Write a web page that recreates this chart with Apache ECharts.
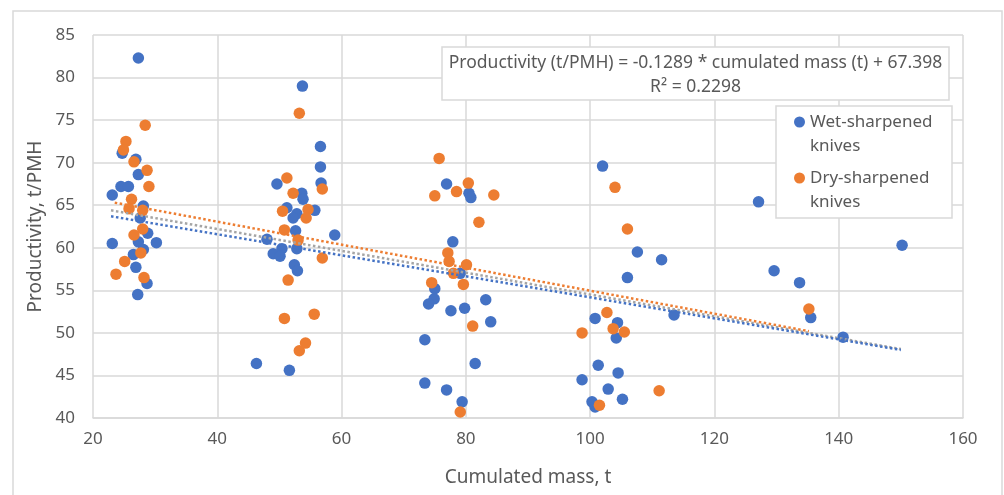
<!DOCTYPE html>
<html lang="en">
<head>
    <meta charset="UTF-8">
    <title>Productivity vs cumulated mass</title>
    <script src="https://cdn.jsdelivr.net/npm/echarts@6/dist/echarts.min.js"></script>
    <style>
        html, body { margin: 0; padding: 0; background: #fff; }
    </style>
</head>
<body>
    <div id="main" style="width: 1004px;height:495px;"></div>
    <script type="text/javascript">
        // points: [cumulated mass t, productivity t/PMH]
        var wetPoints = [
            [27.3, 82.3], [24.7, 71.1], [26.9, 70.4], [27.3, 68.6], [24.5, 67.2], [25.7, 67.2],
            [23.1, 66.2], [28.1, 64.9], [27.6, 63.5], [23.1, 60.5], [30.2, 60.6], [27.3, 60.7],
            [28.8, 61.7], [28.1, 59.8], [26.5, 59.2], [26.9, 57.7], [28.7, 55.8], [27.2, 54.5],
            [53.7, 79.0], [56.6, 71.9], [56.6, 69.5], [56.7, 67.6], [49.6, 67.5], [53.6, 66.4],
            [53.8, 65.7], [51.2, 64.7], [55.7, 64.4], [52.8, 64.0], [52.2, 63.5], [52.6, 62.0],
            [58.9, 61.5], [48.0, 61.0], [52.8, 59.9], [50.4, 59.9], [49.0, 59.3], [50.1, 59.0],
            [52.4, 58.0], [52.9, 57.3], [46.3, 46.4], [51.6, 45.6],
            [76.9, 67.5], [80.5, 66.4], [80.8, 65.9], [77.9, 60.7], [79.1, 57.0], [75.0, 55.2],
            [74.9, 54.0], [74.0, 53.4], [83.2, 53.9], [77.6, 52.6], [79.8, 52.9], [84.0, 51.3],
            [73.4, 49.2], [81.5, 46.4], [73.4, 44.1], [76.9, 43.3], [79.4, 41.9],
            [102.0, 69.6], [107.6, 59.5], [111.5, 58.6], [106.0, 56.5], [113.5, 52.1], [100.8, 51.7],
            [104.4, 51.2], [104.2, 49.4], [101.3, 46.2], [104.5, 45.3], [98.7, 44.5], [102.9, 43.4],
            [105.2, 42.2], [100.3, 41.9], [100.8, 41.3],
            [127.1, 65.4], [150.2, 60.3], [129.6, 57.3], [133.7, 55.9], [135.5, 51.8], [140.7, 49.5]
        ];
        var dryPoints = [
            [28.4, 74.4], [25.3, 72.5], [24.9, 71.5], [26.6, 70.1], [28.7, 69.1], [29.0, 67.2],
            [26.2, 65.7], [25.8, 64.6], [28.0, 64.4], [28.0, 62.2], [26.6, 61.5], [27.7, 59.4],
            [25.1, 58.4], [23.7, 56.9], [28.2, 56.5],
            [53.2, 75.8], [51.2, 68.2], [52.2, 66.4], [56.9, 66.9], [50.5, 64.3], [54.6, 64.5],
            [54.3, 63.5], [50.8, 62.1], [53.0, 60.9], [56.9, 58.8], [51.4, 56.2], [50.8, 51.7],
            [55.6, 52.2], [54.2, 48.8], [53.2, 47.9],
            [75.7, 70.5], [80.4, 67.6], [78.5, 66.6], [75.0, 66.1], [84.5, 66.2], [82.1, 63.0],
            [77.1, 59.4], [77.3, 58.4], [80.1, 58.0], [78.0, 57.0], [79.6, 55.7], [74.5, 55.9],
            [81.1, 50.8], [79.1, 40.7],
            [104.0, 67.1], [106.0, 62.2], [102.7, 52.4], [103.7, 50.5], [105.5, 50.1], [98.7, 50.0],
            [111.1, 43.2], [101.5, 41.5],
            [135.2, 52.8]
        ];
        // linear trend lines, ends
        var wetTrend = [[22.9, 63.7], [150, 48.0]];
        var dryTrend = [[23.5, 65.3], [135.2, 50.2]];
        var allTrend = [[22.9, 64.4], [150, 48.1]];

        var seriesNames = ['Wet-sharpened knives', 'Dry-sharpened knives'];
        var equationLines = ['Productivity (t/PMH) = -0.1289 * cumulated mass (t) + 67.398', 'R\u00b2 = 0.2298'];

        var blue = '#4472C4', orange = '#ED7D31', gray = '#A5A5A5';
        var textColor = '#595959', lineColor = '#D9D9D9';
        var font = 'Noto Sans';

        var myChart = echarts.init(document.getElementById('main'));

        function trendSeries(name, data, color) {
            return {
                name: name,
                type: 'line',
                data: data,
                symbol: 'none',
                silent: true,
                lineStyle: {color: color, width: 2.5, type: 'dotted'}
            };
        }

        var option = {
            backgroundColor: '#fff',
            animation: false,
            textStyle: {fontFamily: font},
            grid: {left: 93, right: 41, top: 35, bottom: 77, containLabel: false},
            xAxis: {
                type: 'value',
                min: 20, max: 160, interval: 20,
                name: 'Cumulated mass, t',
                nameLocation: 'middle',
                nameGap: 50,
                nameTextStyle: {color: textColor, fontSize: 19, fontFamily: font},
                axisLine: {show: true, lineStyle: {color: lineColor, width: 1.5}},
                axisTick: {show: false},
                axisLabel: {color: textColor, fontSize: 17, margin: 13, fontFamily: font},
                splitLine: {show: true, lineStyle: {color: lineColor, width: 1.5}}
            },
            yAxis: {
                type: 'value',
                min: 40, max: 85, interval: 5,
                name: 'Productivity, t/PMH',
                nameLocation: 'middle',
                nameGap: 45,
                nameTextStyle: {color: textColor, fontSize: 19, fontFamily: font},
                axisLine: {show: false},
                axisTick: {show: false},
                axisLabel: {color: textColor, fontSize: 17, margin: 18, fontFamily: font},
                splitLine: {show: true, lineStyle: {color: lineColor, width: 1.5}}
            },
            legend: {
                data: seriesNames,
                z: 150,
                orient: 'vertical',
                left: 794,
                top: 86,
                padding: 0,
                itemWidth: 11,
                itemHeight: 11,
                itemGap: -16,
                icon: 'circle',
                // blank first line so the marker sits beside the first text line
                formatter: function (name) {
                    return '\n' + name.replace(' knives', '\nknives');
                },
                textStyle: {color: textColor, fontSize: 17, lineHeight: 24, fontFamily: font}
            },
            graphic: [
                // outer chart border
                {
                    type: 'rect', z: -10, silent: true,
                    shape: {x: 13, y: 11, width: 989, height: 500},
                    style: {fill: '#fff', stroke: lineColor, lineWidth: 1.5}
                },
                // trend equation box
                {
                    type: 'rect', z: 100, silent: true,
                    shape: {x: 442, y: 47, width: 507, height: 53},
                    style: {fill: '#fff', stroke: lineColor, lineWidth: 1.5}
                },
                {
                    type: 'text', z: 101, silent: true,
                    x: 695.5, y: 51,
                    style: {
                        text: equationLines.join('\n'),
                        fill: textColor, font: '17.5px "' + font + '"',
                        lineHeight: 24, align: 'center', verticalAlign: 'top'
                    }
                },
                // legend box
                {
                    type: 'rect', z: 90, silent: true,
                    shape: {x: 776, y: 106, width: 176, height: 112},
                    style: {fill: '#fff', stroke: lineColor, lineWidth: 1.5}
                }
            ],
            series: [
                {
                    name: seriesNames[0],
                    type: 'scatter',
                    data: wetPoints,
                    symbolSize: 11.5,
                    itemStyle: {color: blue, opacity: 1}
                },
                {
                    name: seriesNames[1],
                    type: 'scatter',
                    data: dryPoints,
                    symbolSize: 11.5,
                    itemStyle: {color: orange, opacity: 1}
                },
                trendSeries('Linear (total)', allTrend, gray),
                trendSeries('Linear (wet)', wetTrend, blue),
                trendSeries('Linear (dry)', dryTrend, orange)
            ]
        };

        myChart.setOption(option);
    </script>
</body>
</html>
